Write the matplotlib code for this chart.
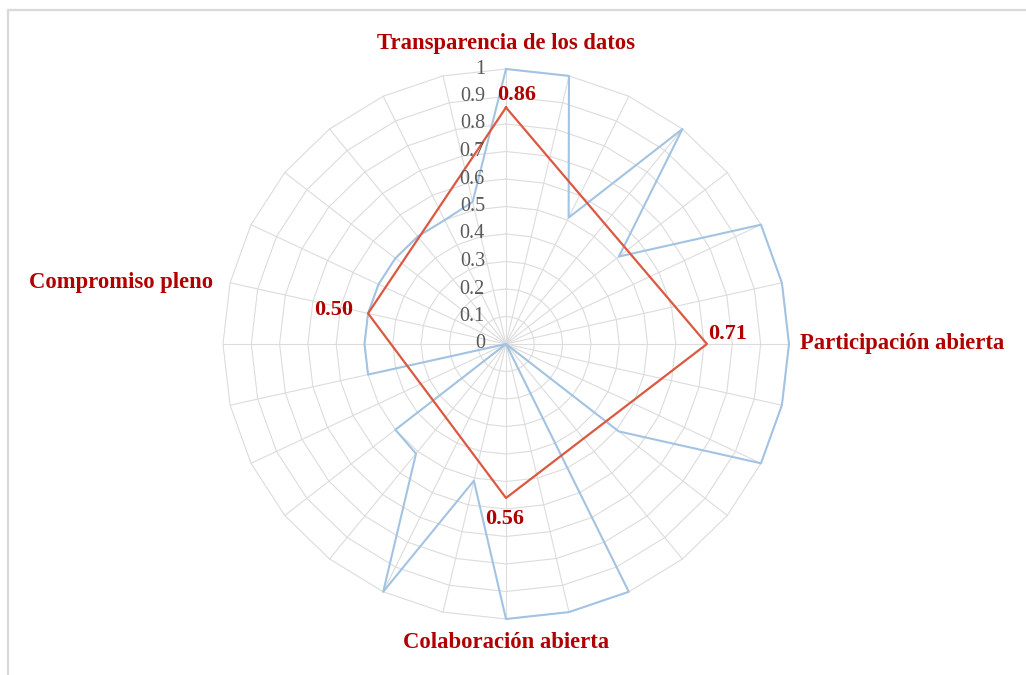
import numpy as np
import matplotlib
matplotlib.use("Agg")
import matplotlib.pyplot as plt
from matplotlib.transforms import offset_copy
from matplotlib.patches import Rectangle

# ---------------- data ----------------
categories = (["Transparencia de los datos"] + [""] * 6 +
              ["Participación abierta"] + [""] * 6 +
              ["Colaboración abierta"] + [""] * 7 +
              ["Compromiso pleno"] + [""] * 5)

blue_values = [1.00, 1.00, 0.51, 1.00, 0.51, 1.00, 1.00, 1.00, 1.00, 1.00,
               0.51, 0.00, 1.00, 1.00, 1.00, 0.51, 1.00, 0.51, 0.50, 0.00,
               0.50, 0.50, 0.50, 0.50, 0.50, 0.50, 0.50, 0.53]

nan = np.nan
red_values = ([0.86] + [nan] * 6 + [0.71] + [nan] * 6 + [0.56] + [nan] * 7 +
              [0.50] + [nan] * 5)
red_labels = ["0.86", "0.71", "0.56", "0.50"]

r_ticks = [0.0, 0.1, 0.2, 0.3, 0.4, 0.5, 0.6, 0.7, 0.8, 0.9, 1.0]
r_tick_labels = ["0", "0.1", "0.2", "0.3", "0.4", "0.5", "0.6", "0.7",
                 "0.8", "0.9", "1"]

# ---------------- style ----------------
SERIF = ["Liberation Serif", "DejaVu Serif"]
GRID = "#DCDCDC"
BLUE = "#A3C3E2"
RED = "#DB5841"
LABEL_RED = "#B00000"

W, H = 1026, 675
fig = plt.figure(figsize=(W / 100, H / 100), dpi=100)
cx, cy, rx, ry = 506, 344, 283, 275
ax = fig.add_axes([(cx - rx) / W, (H - cy - ry) / H, 2 * rx / W, 2 * ry / H],
                  projection="polar")
ax.set_theta_zero_location("N")
ax.set_theta_direction(-1)
ax.set_ylim(0, 1)
ax.set_aspect("auto")
ax.grid(False)
ax.set_xticks([])
ax.set_yticks([])
ax.spines["polar"].set_visible(False)

n = len(categories)
angles = np.arange(n) * 2 * np.pi / n
angles_c = np.append(angles, angles[0])

# spokes
for th in angles:
    ax.plot([th, th], [0, 1], color=GRID, lw=0.8, zorder=1, clip_on=False)
# polygon rings
for r in r_ticks[1:]:
    ax.plot(angles_c, [r] * (n + 1), color=GRID, lw=0.8, zorder=1, clip_on=False)

# blue series
bv = np.array(blue_values)
ax.plot(angles_c, np.append(bv, bv[0]), color=BLUE, lw=1.5, zorder=3,
        clip_on=False)

# red series (only defined points, connected)
rv = np.array(red_values)
mask = ~np.isnan(rv)
ra = angles[mask]
rr = rv[mask]
ax.plot(np.append(ra, ra[0]), np.append(rr, rr[0]), color=RED, lw=1.6,
        zorder=4, clip_on=False)

# red data labels
lab_off = [(11, 13, "center"), (21, 10, "center"), (-1, -21, "center"),
           (-15, 3, "right")]
for (th, r, txt, (dx, dy, ha)) in zip(ra, rr, red_labels, lab_off):
    tr = offset_copy(ax.transData, fig=fig, x=dx, y=dy, units="dots")
    ax.text(th, r, txt, transform=tr, ha=ha, va="center", fontsize=16,
            fontweight="bold", color=LABEL_RED, family=SERIF, zorder=5)

# radial tick labels
tick_tr = offset_copy(ax.transData, fig=fig, x=-21, y=0, units="dots")
for r, l in zip(r_ticks, r_tick_labels):
    ax.text(0, r, l, transform=tick_tr, ha="right", va="center",
            fontsize=14.5, color="#595959", family=SERIF, zorder=5)

# category labels
cat_off = {0: (0, 26, "center"), 7: (11, 0, "left"), 14: (0, -24, "center"),
           22: (-17, 0, "right")}
for i, name in enumerate(categories):
    if not name:
        continue
    dx, dy, ha = cat_off[i]
    tr = offset_copy(ax.transData, fig=fig, x=dx, y=dy, units="dots")
    ax.text(angles[i], 1.0, name, transform=tr, ha=ha, va="center",
            fontsize=16.3, fontweight="bold", color=LABEL_RED, family=SERIF,
            zorder=5)

# outer frame (cropped chart border)
fig.add_artist(Rectangle((7.5 / W, -0.1), 1.2, 1 - 9.5 / H + 0.1,
                         transform=fig.transFigure, fill=False,
                         edgecolor="#D9D9D9", lw=1.6))

fig.savefig("out.png", dpi=100)
